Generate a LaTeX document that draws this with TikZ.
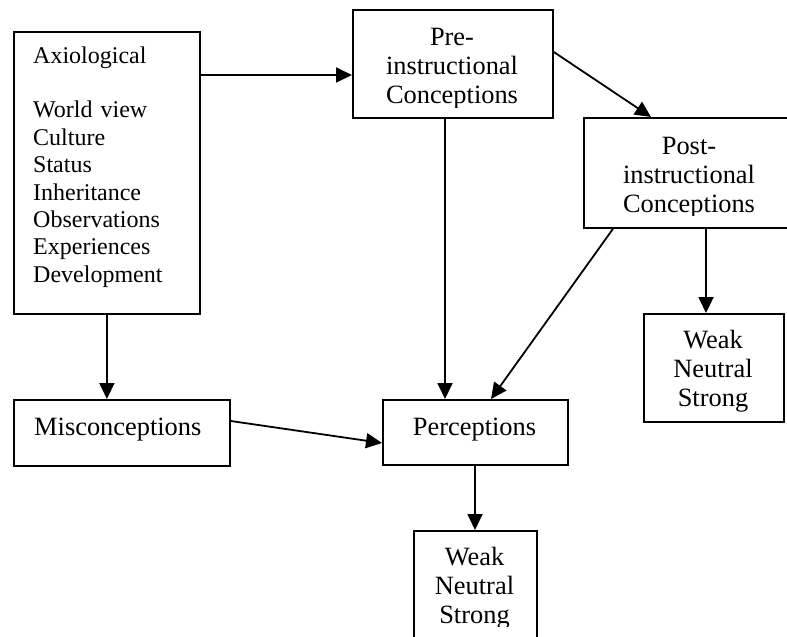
\documentclass[tikz,border=0pt]{standalone}
\usepackage{fontspec}
\setmainfont{Liberation Serif}
\usetikzlibrary{arrows.meta}
\begin{document}
\begin{tikzpicture}[x=1pt,y=-1pt,
  box/.style={draw, line width=1.8pt, inner sep=0pt, anchor=north west},
  boxtext/.style={inner sep=0pt, anchor=base, align=center, text width=#1,
    font=\fontsize{26.4}{29.4}\selectfont},
  onetext/.style={inner sep=0pt, font=\fontsize{26.4}{29.4}\selectfont},
  listtext/.style={inner sep=0pt, anchor=base west, align=left, text width=165pt,
    font=\fontsize{24}{27.4}\selectfont},
  arr/.style={-{Triangle[length=16pt,width=15pt]}, line width=1.8pt},
]
\useasboundingbox (0,0) rectangle (787,637);

% boxes
\node[box, minimum width=186pt, minimum height=282pt] (axio)  at (13,31)   {};
\node[box, minimum width=200pt, minimum height=108pt] (pre)   at (352,9)   {};
\node[box, minimum width=212pt, minimum height=110pt] (post)  at (583,117) {};
\node[box, minimum width=140pt, minimum height=108pt] (weakR) at (643,313) {};
\node[box, minimum width=216pt, minimum height=66pt]  (misc)  at (13,399)  {};
\node[box, minimum width=185pt, minimum height=65pt]  (perc)  at (382,399) {};
\node[box, minimum width=123pt, minimum height=115pt] (weakB) at (413,530) {};

% texts
\node[listtext] (axioT) at (33,63)
  {Axiological\\[\baselineskip]World view\\Culture\\Status\\Inheritance\\Observations\\Experiences\\Development};
\begin{scope}
  \clip (pre.north west) rectangle (pre.east |- 0,107);
  \node[boxtext=190pt] (preT) at (452,45) {Pre-\\instructional\\Conceptions};
\end{scope}
\begin{scope}
  \clip (post.north west) rectangle (post.east |- 0,215);
  \node[boxtext=200pt] (postT) at (689,154) {Post-\\instructional\\Conceptions};
\end{scope}
\begin{scope}
  \clip (weakR.north west) rectangle (weakR.east |- 0,411);
  \node[boxtext=130pt] (weakRT) at (713,348) {Weak\\Neutral\\Strong};
\end{scope}
\begin{scope}
  \clip (weakB.north west) rectangle (weakB.east |- 0,626);
  \node[boxtext=115pt] (weakBT) at (474.5,565) {Weak\\Neutral\\Strong};
\end{scope}
\node[onetext, anchor=base west] (miscT) at (34,435) {Misconceptions};
\node[onetext, anchor=base] (percT) at (474.5,435) {Perceptions};

% connectors
\draw[arr] (axio.east |- 0,75) -- (pre.west |- 0,75);
\draw[arr] (pre.east |- 0,52) -- (post.north -| 651,0);
\draw[arr] (pre.south -| 445,0) -- (perc.north -| 445,0);
\draw[arr] (post.south -| 613,0) -- (perc.north -| 491,0);
\draw[arr] (post.south -| 706,0) -- (weakR.north -| 706,0);
\draw[arr] (axio.south) -- (misc.north -| axio.south);
\draw[arr] (misc.east |- 0,421) -- (perc.west |- 0,443);
\draw[arr] (perc.south -| 475,0) -- (weakB.north -| 475,0);
\end{tikzpicture}
\end{document}
